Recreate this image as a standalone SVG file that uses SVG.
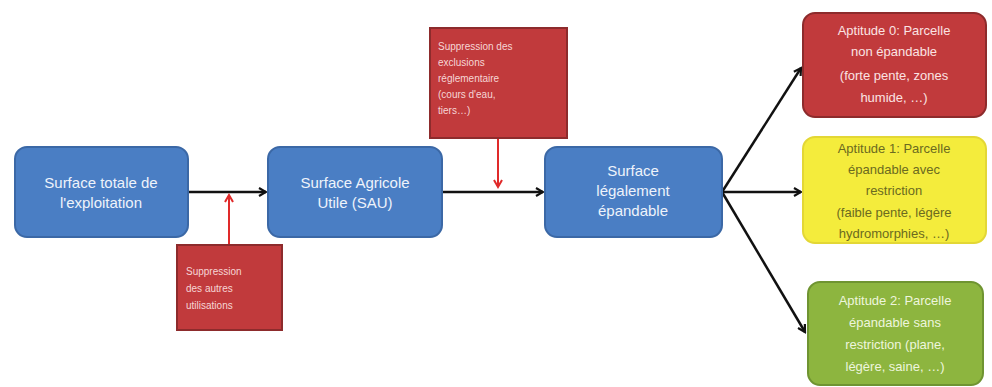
<svg xmlns="http://www.w3.org/2000/svg" width="992" height="387" viewBox="0 0 992 387">
<defs>
<style>
.blue{fill:#4a7ec4;stroke:#3b68a6;stroke-width:2}
.red{fill:#c13a3c;stroke:#8d2b2c;stroke-width:2}
.yel{fill:#f4ec3c;stroke:#e3d735;stroke-width:2}
.grn{fill:#8db53f;stroke:#6f9431;stroke-width:2}
text{font-family:"Liberation Sans","DejaVu Sans",sans-serif}
.bt{fill:#eef3fb;font-size:15px;text-anchor:middle}
.rt{fill:#f6d6d6;font-size:10px}
.at{fill:#fbe3e3;font-size:13px;text-anchor:middle}
.yt{fill:#6b6a20;font-size:13px;text-anchor:middle}
.gt{fill:#eef5dd;font-size:13px;text-anchor:middle}
.blk{stroke:#111;stroke-width:2.5;fill:none}
.rl{stroke:#e02a2a;stroke-width:2;fill:none}
</style>
<marker id="ab" markerWidth="10" markerHeight="10" refX="8" refY="5" orient="auto" markerUnits="userSpaceOnUse">
<path d="M1,1 L8,5 L1,9" fill="none" stroke="#111" stroke-width="2.2"/>
</marker>
<marker id="ar" markerWidth="10" markerHeight="10" refX="8" refY="5" orient="auto" markerUnits="userSpaceOnUse">
<path d="M1,1 L8,5 L1,9" fill="none" stroke="#e02a2a" stroke-width="2"/>
</marker>
</defs>
<rect width="992" height="387" fill="#ffffff"/>
<g id="connectors">
<line class="blk" x1="188" y1="192" x2="266" y2="192" marker-end="url(#ab)"/>
<line class="blk" x1="442" y1="192" x2="543" y2="192" marker-end="url(#ab)"/>
<line class="blk" x1="722" y1="192" x2="801" y2="68" marker-end="url(#ab)"/>
<line class="blk" x1="722" y1="192" x2="801" y2="192" marker-end="url(#ab)"/>
<line class="blk" x1="722" y1="192" x2="805" y2="332" marker-end="url(#ab)"/>
<line class="rl" x1="229" y1="245" x2="229" y2="195" marker-end="url(#ar)"/>
<line class="rl" x1="498" y1="138" x2="498" y2="187" marker-end="url(#ar)"/>
</g>
<g id="n1"><rect class="blue" x="15" y="147" width="173" height="90" rx="12"/>
<text class="bt" x="101" y="188">Surface totale de</text><text class="bt" x="101" y="208">l'exploitation</text></g>
<g id="n2"><rect class="blue" x="268" y="147" width="174" height="90" rx="12"/>
<text class="bt" x="355" y="188">Surface Agricole</text><text class="bt" x="355" y="208">Utile (SAU)</text></g>
<g id="n3"><rect class="blue" x="545" y="147" width="177" height="90" rx="12"/>
<text class="bt" x="633" y="176">Surface</text><text class="bt" x="633" y="196">légalement</text><text class="bt" x="633" y="216">épandable</text></g>
<g id="r1"><rect class="red" x="430" y="28" width="137" height="110"/>
<text class="rt" x="438" y="50">Suppression des</text><text class="rt" x="438" y="66">exclusions</text><text class="rt" x="438" y="82">réglementaire</text><text class="rt" x="438" y="98">(cours d'eau,</text><text class="rt" x="438" y="114">tiers…)</text></g>
<g id="r2"><rect class="red" x="177" y="245" width="105" height="85"/>
<text class="rt" x="186" y="275">Suppression</text><text class="rt" x="186" y="292">des autres</text><text class="rt" x="186" y="309">utilisations</text></g>
<g id="a0"><rect class="red" x="803" y="13" width="183" height="104" rx="12"/>
<text class="at" x="894" y="35">Aptitude 0: Parcelle</text><text class="at" x="894" y="56">non épandable</text><text class="at" x="894" y="80">(forte pente, zones</text><text class="at" x="894" y="102">humide, …)</text></g>
<g id="a1"><rect class="yel" x="803" y="137" width="183" height="106" rx="12"/>
<text class="yt" x="894" y="153">Aptitude 1: Parcelle</text><text class="yt" x="894" y="174">épandable avec</text><text class="yt" x="894" y="195">restriction</text><text class="yt" x="894" y="217">(faible pente, légère</text><text class="yt" x="894" y="238">hydromorphies, …)</text></g>
<g id="a2"><rect class="grn" x="808" y="282" width="175" height="103" rx="12"/>
<text class="gt" x="895" y="305">Aptitude 2: Parcelle</text><text class="gt" x="895" y="327">épandable sans</text><text class="gt" x="895" y="349">restriction (plane,</text><text class="gt" x="895" y="371">légère, saine, …)</text></g>
</svg>
